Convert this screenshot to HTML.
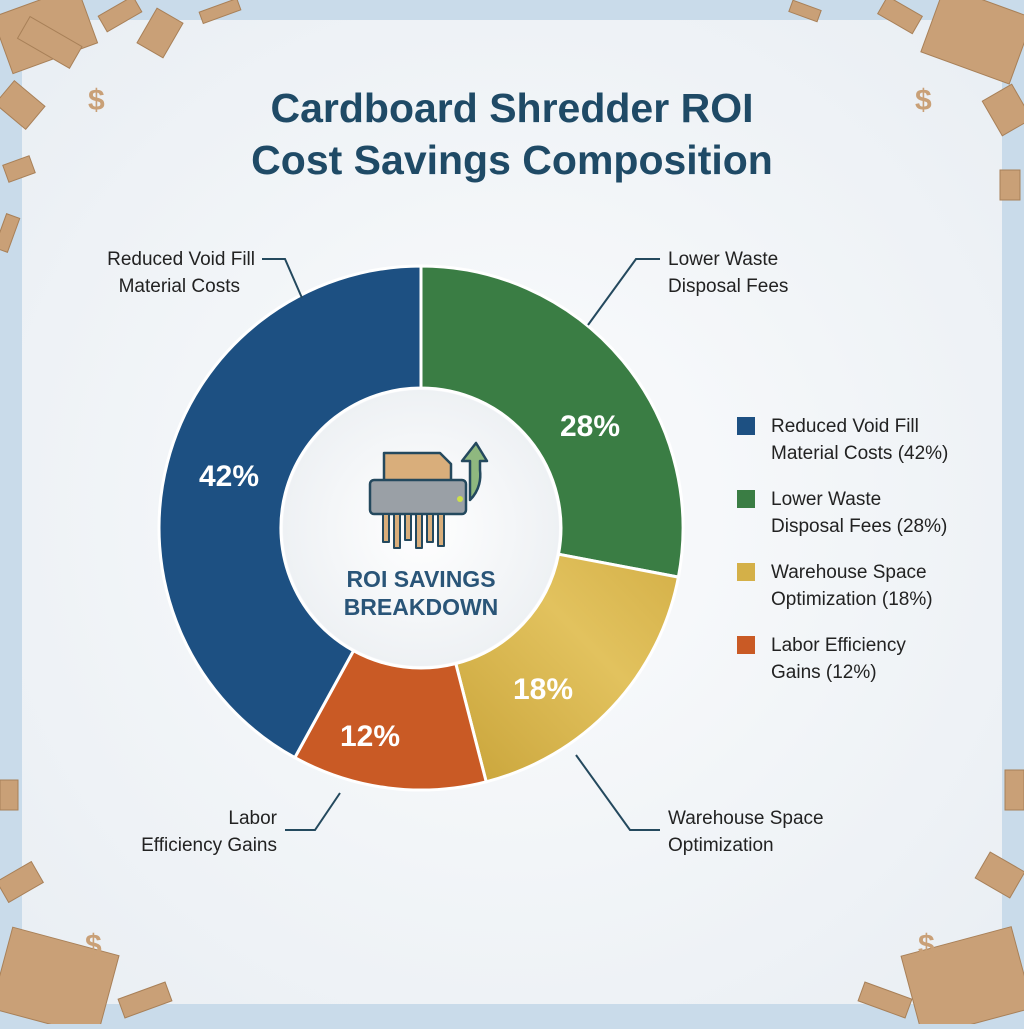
<!DOCTYPE html>
<html><head><meta charset="utf-8"><style>
body{margin:0;width:1024px;height:1024px;overflow:hidden;background:#c9dbea;font-family:"Liberation Sans",sans-serif}
</style></head><body>
<svg width="1024" height="1024" viewBox="0 0 1024 1024" xmlns="http://www.w3.org/2000/svg">
<defs>
<radialGradient id="bg" cx="50%" cy="50%" r="70%"><stop offset="0" stop-color="#fbfcfd"/><stop offset="1" stop-color="#e9eef3"/></radialGradient>
<linearGradient id="yel" x1="0" y1="1" x2="1" y2="0"><stop offset="0" stop-color="#c9a43a"/><stop offset=".6" stop-color="#e2c25e"/><stop offset="1" stop-color="#d4b048"/></linearGradient>
<radialGradient id="inner" cx="50%" cy="50%" r="50%"><stop offset="0" stop-color="#ffffff"/><stop offset="1" stop-color="#eef1f4"/></radialGradient>
</defs>
<rect x="22" y="20" width="980" height="984" fill="url(#bg)"/>
<g fill="#c9a077" stroke="#a88058" stroke-width="1">
<rect x="0" y="0" width="90" height="60" transform="rotate(-20 45 30)"/>
<rect x="20" y="30" width="60" height="25" transform="rotate(30 50 42)"/>
<rect x="100" y="5" width="40" height="18" transform="rotate(-30 120 14)"/>
<rect x="140" y="18" width="40" height="30" transform="rotate(-60 160 33)"/>
<rect x="0" y="90" width="40" height="30" transform="rotate(40 20 105)"/>
<rect x="5" y="160" width="28" height="18" transform="rotate(-20 19 169)"/>
<rect x="0" y="215" width="14" height="36" transform="rotate(20 7 233)"/>
<rect x="200" y="5" width="40" height="12" transform="rotate(-20 220 11)"/>
<rect x="930" y="0" width="94" height="70" transform="rotate(20 977 35)"/>
<rect x="880" y="5" width="40" height="20" transform="rotate(30 900 15)"/>
<rect x="990" y="90" width="34" height="40" transform="rotate(-30 1007 110)"/>
<rect x="1000" y="170" width="20" height="30"/>
<rect x="790" y="5" width="30" height="12" transform="rotate(20 805 11)"/>
<rect x="0" y="940" width="110" height="84" transform="rotate(15 55 982)"/>
<rect x="0" y="870" width="40" height="24" transform="rotate(-30 20 882)"/>
<rect x="120" y="990" width="50" height="20" transform="rotate(-20 145 1000)"/>
<rect x="0" y="780" width="18" height="30"/>
<rect x="910" y="940" width="114" height="84" transform="rotate(-15 967 982)"/>
<rect x="980" y="860" width="40" height="30" transform="rotate(30 1000 875)"/>
<rect x="860" y="990" width="50" height="20" transform="rotate(20 885 1000)"/>
<rect x="1005" y="770" width="19" height="40"/>
</g>
<g font-family="Liberation Sans,sans-serif" font-weight="bold" font-size="30" fill="#c9a077">
<text x="88" y="110">$</text><text x="915" y="110">$</text><text x="85" y="955">$</text><text x="918" y="955">$</text>
</g>
<g font-weight="bold" font-size="41" fill="#1f4a66" text-anchor="middle">
<text x="512" y="122">Cardboard Shredder ROI</text>
<text x="512" y="174">Cost Savings Composition</text>
</g>
<g stroke="#fff" stroke-width="3">
<path d="M421,266 A262,262 0 0 1 678.4,577.1 L558.5,554.2 A140,140 0 0 0 421,388 Z" fill="#3a7d44"/>
<path d="M678.4,577.1 A262,262 0 0 1 486.2,781.8 L455.8,663.6 A140,140 0 0 0 558.5,554.2 Z" fill="url(#yel)"/>
<path d="M486.2,781.8 A262,262 0 0 1 294.8,757.6 L353.5,650.7 A140,140 0 0 0 455.8,663.6 Z" fill="#c95a25"/>
<path d="M294.8,757.6 A262,262 0 0 1 421,266 L421,388 A140,140 0 0 0 353.5,650.7 Z" fill="#1d5082"/>
</g>
<circle cx="421" cy="528" r="138" fill="url(#inner)"/>
<g font-weight="bold" font-size="30" fill="#fff" text-anchor="middle">
<text x="229" y="486">42%</text><text x="590" y="436">28%</text><text x="543" y="699">18%</text><text x="370" y="746">12%</text>
</g>
<!-- icon -->
<g stroke="#24495e" stroke-width="2.5" stroke-linejoin="round">
<path d="M470,500 C480,490 481,478 480,470 L480,461 L487,461 L476,443 L462,461 L470,461 Z" fill="#8fb87f"/>
<path d="M384,500 L384,453 L440,453 L451,464 L451,500 Z" fill="#d9ae7b"/>
<rect x="370" y="480" width="96" height="34" rx="4" fill="#9aa0a6"/>
<g fill="#d9ae7b" stroke-width="2"><rect x="383" y="514" width="6" height="28"/><rect x="394" y="514" width="6" height="34"/><rect x="405" y="514" width="6" height="26"/><rect x="416" y="514" width="6" height="34"/><rect x="427" y="514" width="6" height="28"/><rect x="438" y="514" width="6" height="32"/></g>
</g>
<circle cx="460" cy="499" r="3" fill="#cde04a"/>
<g font-weight="bold" font-size="23" fill="#2a5578" text-anchor="middle">
<text x="421" y="587">ROI SAVINGS</text><text x="421" y="615">BREAKDOWN</text>
</g>
<g stroke="#24495e" stroke-width="2" fill="none">
<path d="M262,259 L285,259 L302,298"/>
<path d="M660,259 L636,259 L588,325"/>
<path d="M660,830 L630,830 L576,755"/>
<path d="M285,830 L315,830 L340,793"/>
</g>
<g font-size="19" fill="#222">
<text x="255" y="265" text-anchor="end">Reduced Void Fill</text>
<text x="240" y="292" text-anchor="end">Material Costs</text>
<text x="668" y="265">Lower Waste</text>
<text x="668" y="292">Disposal Fees</text>
<text x="668" y="824">Warehouse Space</text>
<text x="668" y="851">Optimization</text>
<text x="277" y="824" text-anchor="end">Labor</text>
<text x="277" y="851" text-anchor="end">Efficiency Gains</text>
</g>
<rect x="737" y="417" width="18" height="18" fill="#1d5082"/>
<rect x="737" y="490" width="18" height="18" fill="#3a7d44"/>
<rect x="737" y="563" width="18" height="18" fill="#d4b048"/>
<rect x="737" y="636" width="18" height="18" fill="#c95a25"/>
<g font-size="19" fill="#222">
<text x="771" y="432">Reduced Void Fill</text><text x="771" y="459">Material Costs (42%)</text>
<text x="771" y="505">Lower Waste</text><text x="771" y="532">Disposal Fees (28%)</text>
<text x="771" y="578">Warehouse Space</text><text x="771" y="605">Optimization (18%)</text>
<text x="771" y="651">Labor Efficiency</text><text x="771" y="678">Gains (12%)</text>
</g>
</svg>
</body></html>
